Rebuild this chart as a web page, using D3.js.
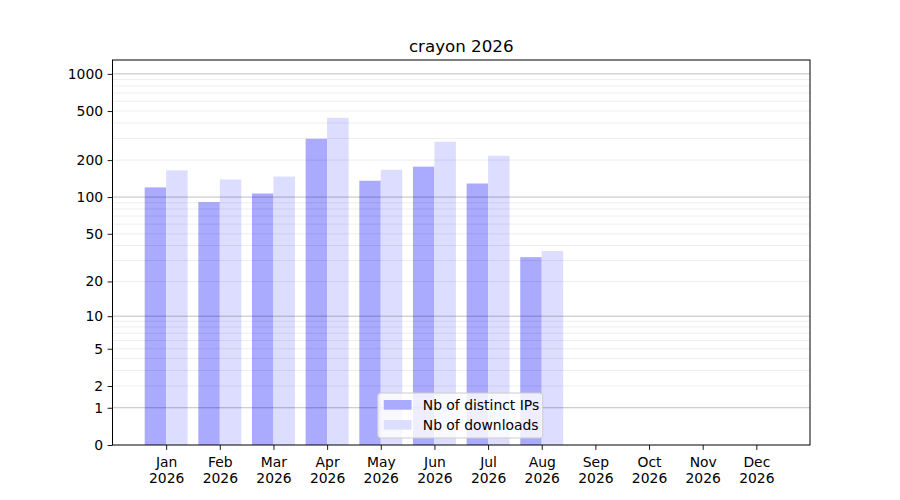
<!DOCTYPE html>
<html>
<head>
<meta charset="utf-8">
<script src="https://cdn.jsdelivr.net/npm/d3@7"></script>
<style>
  body { margin: 0; background: #fff; }
  svg, svg text { font-family: "DejaVu Sans", sans-serif; }
</style>
</head>
<body>
<div id="chart"></div>
<script>
// données
const mois = ["Jan", "Feb", "Mar", "Apr", "May", "Jun", "Jul", "Aug", "Sep", "Oct", "Nov", "Dec"]
const annee = "2026"
const nbIPs = [120, 91, 107, 298, 136, 177, 129, 32, 0, 0, 0, 0]
const nbDownloads = [165, 139, 147, 441, 167, 282, 217, 36, 0, 0, 0, 0]
const yTicks = [0, 1, 2, 5, 10, 20, 50, 100, 200, 500, 1000]
const yMajor = [1, 10, 100, 1000]
const yMinor = [2, 3, 4, 5, 6, 7, 8, 9, 20, 30, 40, 50, 60, 70, 80, 90, 200, 300, 400, 500, 600, 700, 800, 900]
const yMax = 1295
const titre = "crayon 2026"
const series = ["Nb of distinct IPs", "Nb of downloads"]
const couleurs = ["#aaaaff", "#ddddff"]

const W = 900, H = 500
const margin = {top: 60, right: 90, bottom: 55, left: 112.5}
const width = W - margin.left - margin.right,
      height = H - margin.top - margin.bottom

const svg = d3.select("#chart")
  .append("svg")
  .attr("width", W)
  .attr("height", H)

const g = svg.append("g")
  .attr("transform", "translate(" + margin.left + "," + margin.top + ")")

// x : index du mois, xlim [-1, 12]
const x = d3.scaleLinear().domain([-1, 12]).range([0, width])
// y : échelle log appliquée à (1 + v)
const yLog = d3.scaleLog().domain([1, yMax + 1]).range([height, 0])
const y = v => yLog(v + 1)

const barW = x(0.4) - x(0)

// barres
g.append("g").selectAll("rect")
  .data(nbIPs)
  .join("rect")
  .attr("x", (d, i) => x(i - 0.4))
  .attr("width", barW)
  .attr("y", d => y(d))
  .attr("height", d => height - y(d))
  .attr("fill", couleurs[0])

g.append("g").selectAll("rect")
  .data(nbDownloads)
  .join("rect")
  .attr("x", (d, i) => x(i))
  .attr("width", barW)
  .attr("y", d => y(d))
  .attr("height", d => height - y(d))
  .attr("fill", couleurs[1])

// grille (au-dessus des barres)
g.append("g").selectAll("line")
  .data(yMinor)
  .join("line")
  .attr("x1", 0).attr("x2", width)
  .attr("y1", d => y(d)).attr("y2", d => y(d))
  .attr("stroke", "#000")
  .attr("stroke-opacity", 0.07)
  .attr("stroke-width", 1)

g.append("g").selectAll("line")
  .data(yMajor)
  .join("line")
  .attr("x1", 0).attr("x2", width)
  .attr("y1", d => y(d)).attr("y2", d => y(d))
  .attr("stroke", "#000")
  .attr("stroke-opacity", 0.25)
  .attr("stroke-width", 1)

// axes
const axeY = g.append("g")
  .call(d3.axisLeft(yLog)
    .tickValues(yTicks.map(v => v + 1))
    .tickFormat(d => String(Math.round(d - 1)))
    .tickSize(4.9)
    .tickPadding(4.5))
  .attr("font-family", "DejaVu Sans")
  .attr("font-size", 13.9)
axeY.select(".domain").remove()
axeY.selectAll("text").attr("fill", "#000")
axeY.selectAll("line").attr("stroke", "#000").attr("stroke-width", 0.9)

const axeX = g.append("g")
  .attr("transform", "translate(0," + height + ")")
  .call(d3.axisBottom(x)
    .tickValues(d3.range(mois.length))
    .tickFormat("")
    .tickSize(4.9))
  .attr("font-family", "DejaVu Sans")
  .attr("font-size", 13.9)
axeX.select(".domain").remove()
axeX.selectAll("line").attr("stroke", "#000").attr("stroke-width", 0.9)

const labels = axeX.selectAll(".tick").append("text")
  .attr("fill", "#000")
  .attr("text-anchor", "middle")
labels.append("tspan").attr("x", 0).attr("y", 22).text(d => mois[d])
labels.append("tspan").attr("x", 0).attr("y", 38).text(annee)

// cadre
g.append("rect")
  .attr("width", width)
  .attr("height", height)
  .attr("fill", "none")
  .attr("stroke", "#000")
  .attr("stroke-width", 1)

// titre
svg.append("text")
  .attr("x", margin.left + width / 2)
  .attr("y", margin.top - 8)
  .attr("text-anchor", "middle")
  .attr("font-size", 16.7)
  .text(titre)

// légende
const legW = 165, legH = 45
const leg = g.append("g")
  .attr("transform", "translate(" + (width / 2 - legW / 2 - 1) + "," + (height - 7 - legH) + ")")
leg.append("rect")
  .attr("width", legW)
  .attr("height", legH)
  .attr("rx", 3)
  .attr("fill", "#fff")
  .attr("fill-opacity", 0.8)
  .attr("stroke", "#ccc")
  .attr("stroke-width", 1)
series.forEach((s, i) => {
  leg.append("rect")
    .attr("x", 6)
    .attr("y", 7 + i * 20)
    .attr("width", 27.8)
    .attr("height", 9.7)
    .attr("fill", couleurs[i])
  leg.append("text")
    .attr("x", 45)
    .attr("y", 17 + i * 20)
    .attr("font-size", 13.9)
    .text(s)
})
</script>
</body>
</html>
